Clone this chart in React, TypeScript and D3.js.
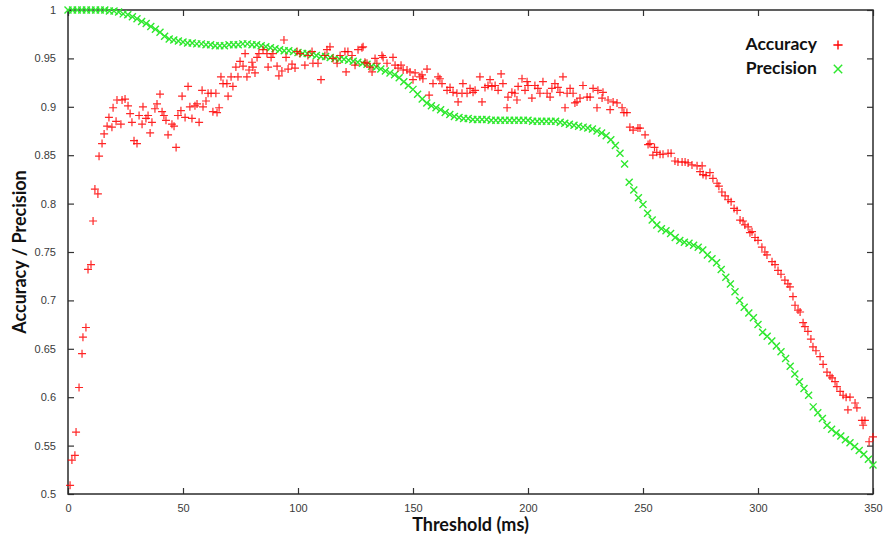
import React, { useEffect, useRef } from "react";
import * as d3 from "d3";

// precision: one reading every 2 ms from 0 to 350
const precisionMs = d3.range(0, 351, 2);
const precision = [
  1.0, 1.0, 1.0, 1.0, 1.0, 1.0, 1.0, 1.0, 1.0, 0.999,
  0.999, 0.998, 0.996, 0.995, 0.993, 0.991, 0.988, 0.986, 0.983, 0.98,
  0.977, 0.973, 0.97, 0.969, 0.968, 0.967, 0.966, 0.966, 0.965, 0.965,
  0.964, 0.964, 0.963, 0.963, 0.963, 0.964, 0.964, 0.964, 0.965, 0.965,
  0.964, 0.964, 0.963, 0.962, 0.961, 0.96, 0.959, 0.958, 0.958, 0.957,
  0.956, 0.955, 0.955, 0.954, 0.953, 0.952, 0.952, 0.951, 0.95, 0.949,
  0.949, 0.948, 0.947, 0.946, 0.945, 0.944, 0.942, 0.941, 0.939, 0.937,
  0.935, 0.933, 0.93, 0.926, 0.922, 0.918, 0.913, 0.908, 0.904, 0.901,
  0.899, 0.897, 0.894, 0.892, 0.89, 0.889, 0.888, 0.888, 0.887, 0.887,
  0.887, 0.887, 0.886, 0.886, 0.886, 0.886, 0.886, 0.886, 0.886, 0.886,
  0.886, 0.885, 0.885, 0.885, 0.885, 0.885, 0.885, 0.884, 0.883, 0.882,
  0.881, 0.88, 0.879, 0.878, 0.877, 0.875, 0.873, 0.87, 0.866, 0.86,
  0.852, 0.841, 0.822, 0.814, 0.806, 0.799, 0.79, 0.783, 0.778, 0.774,
  0.772, 0.769, 0.765, 0.762, 0.76, 0.759, 0.757, 0.755, 0.752, 0.747,
  0.743, 0.739, 0.732, 0.724, 0.717, 0.709, 0.7, 0.693, 0.687, 0.682,
  0.675, 0.667, 0.663, 0.658, 0.653, 0.647, 0.64, 0.632, 0.624, 0.616,
  0.609, 0.602, 0.59, 0.584, 0.578, 0.571, 0.567, 0.563, 0.56, 0.556,
  0.553, 0.549, 0.545, 0.541, 0.536, 0.53,
];

// accuracy: [threshold ms, value]
const accuracy: [number, number][] = [
  [0.9, 0.509], [1.7, 0.535], [3.0, 0.54], [3.5, 0.564], [4.8, 0.61], [6.1, 0.645], [6.5, 0.662], [7.8, 0.672],
  [8.7, 0.732], [10.0, 0.737], [10.9, 0.782], [11.7, 0.815], [13.0, 0.81], [13.5, 0.849], [14.8, 0.862], [15.7, 0.872],
  [17.0, 0.88], [17.8, 0.889], [19.1, 0.879], [19.6, 0.899], [20.9, 0.885], [21.3, 0.907], [23.0, 0.882], [23.5, 0.907],
  [24.8, 0.908], [26.1, 0.901], [27.0, 0.893], [27.8, 0.884], [28.7, 0.865], [30.0, 0.862], [30.9, 0.891], [32.2, 0.882],
  [32.6, 0.9], [33.9, 0.888], [34.8, 0.891], [35.7, 0.873], [36.5, 0.884], [37.8, 0.898], [38.7, 0.903], [40.0, 0.913],
  [40.9, 0.895], [41.7, 0.891], [42.6, 0.886], [43.5, 0.871], [45.2, 0.882], [46.1, 0.88], [47.0, 0.858], [47.8, 0.891],
  [49.1, 0.896], [49.6, 0.911], [50.9, 0.889], [52.2, 0.921], [53.0, 0.9], [53.9, 0.888], [55.2, 0.901], [56.1, 0.903],
  [57.0, 0.884], [58.3, 0.917], [58.7, 0.9], [60.0, 0.906], [60.9, 0.914], [62.2, 0.914], [63.0, 0.895], [64.3, 0.914],
  [64.8, 0.894], [65.7, 0.899], [66.5, 0.931], [67.4, 0.924], [69.1, 0.924], [69.6, 0.911], [70.9, 0.931], [71.7, 0.921],
  [73.0, 0.941], [73.9, 0.931], [74.8, 0.947], [76.1, 0.942], [77.0, 0.955], [77.8, 0.931], [78.7, 0.938], [80.0, 0.946],
  [80.4, 0.941], [81.3, 0.935], [82.2, 0.951], [83.0, 0.955], [84.8, 0.959], [86.5, 0.955], [87.0, 0.941], [88.3, 0.951],
  [89.1, 0.955], [90.9, 0.942], [91.7, 0.932], [93.0, 0.937], [93.9, 0.969], [94.8, 0.951], [95.7, 0.939], [97.4, 0.944],
  [98.7, 0.94], [99.6, 0.957], [100.9, 0.955], [103.0, 0.943], [104.3, 0.953], [106.1, 0.957], [106.5, 0.945], [108.7, 0.945],
  [110.0, 0.928], [111.7, 0.953], [112.6, 0.959], [113.9, 0.962], [115.2, 0.95], [117.0, 0.945], [118.3, 0.953], [120.4, 0.957],
  [120.9, 0.936], [121.7, 0.957], [123.5, 0.953], [124.8, 0.943], [126.1, 0.959], [127.8, 0.961], [128.3, 0.962], [129.1, 0.946],
  [130.0, 0.945], [131.3, 0.941], [132.2, 0.936], [133.5, 0.95], [134.3, 0.945], [136.5, 0.953], [137.0, 0.951], [138.7, 0.945],
  [141.3, 0.951], [142.2, 0.943], [143.5, 0.94], [144.8, 0.943], [145.7, 0.938], [147.4, 0.938], [148.7, 0.936], [150.0, 0.928],
  [150.9, 0.935], [153.0, 0.931], [153.9, 0.933], [154.3, 0.929], [156.1, 0.939], [157.0, 0.912], [158.7, 0.924], [160.9, 0.931],
  [161.7, 0.929], [162.6, 0.924], [164.8, 0.917], [166.1, 0.92], [167.4, 0.915], [169.1, 0.914], [169.6, 0.905], [171.3, 0.914],
  [171.7, 0.924], [173.5, 0.914], [174.8, 0.919], [176.1, 0.915], [177.0, 0.917], [179.1, 0.931], [180.0, 0.905], [181.3, 0.92],
  [182.6, 0.922], [183.5, 0.928], [184.3, 0.921], [185.7, 0.922], [187.0, 0.917], [188.3, 0.934], [189.1, 0.924], [190.9, 0.899],
  [191.3, 0.91], [193.0, 0.915], [194.3, 0.914], [195.2, 0.907], [195.7, 0.921], [197.4, 0.929], [198.7, 0.917], [199.6, 0.926],
  [200.0, 0.922], [201.7, 0.909], [203.0, 0.922], [204.3, 0.919], [205.2, 0.914], [206.5, 0.926], [208.3, 0.914], [209.6, 0.91],
  [210.4, 0.919], [211.7, 0.924], [213.0, 0.92], [213.9, 0.915], [215.2, 0.931], [216.1, 0.899], [217.0, 0.914], [218.3, 0.919],
  [219.6, 0.914], [220.4, 0.904], [221.3, 0.905], [222.6, 0.909], [223.9, 0.922], [225.7, 0.91], [227.0, 0.91], [228.3, 0.919],
  [230.0, 0.899], [230.4, 0.917], [232.2, 0.909], [232.6, 0.915], [234.8, 0.907], [235.7, 0.897], [237.0, 0.905], [238.7, 0.904],
  [240.9, 0.899], [241.7, 0.894], [243.0, 0.894], [244.3, 0.879], [245.7, 0.876], [247.8, 0.878], [248.7, 0.878], [250.9, 0.871],
  [252.2, 0.861], [253.0, 0.862], [254.3, 0.85], [255.0, 0.858], [256.0, 0.853], [257.4, 0.851], [258.7, 0.851], [260.9, 0.852],
  [262.2, 0.852], [263.9, 0.844], [265.2, 0.843], [267.0, 0.843], [268.3, 0.843], [269.6, 0.842], [271.3, 0.84], [273.5, 0.839],
  [274.8, 0.833], [275.7, 0.839], [276.1, 0.83], [277.4, 0.829], [279.1, 0.832], [280.4, 0.826], [282.2, 0.821], [283.0, 0.818],
  [284.3, 0.812], [285.7, 0.808], [287.0, 0.804], [288.3, 0.802], [289.6, 0.795], [290.9, 0.793], [292.2, 0.783], [293.5, 0.782],
  [294.3, 0.778], [295.7, 0.776], [296.5, 0.77], [297.4, 0.771], [298.7, 0.765], [300.0, 0.762], [301.7, 0.755], [303.0, 0.75],
  [303.9, 0.747], [306.1, 0.74], [307.4, 0.737], [308.7, 0.731], [310.0, 0.727], [311.7, 0.721], [313.0, 0.717], [313.9, 0.714],
  [315.2, 0.704], [316.1, 0.695], [317.4, 0.69], [318.3, 0.688], [319.6, 0.677], [320.4, 0.673], [321.7, 0.668], [323.0, 0.66],
  [323.9, 0.652], [325.2, 0.648], [327.0, 0.642], [328.3, 0.634], [330.0, 0.626], [331.3, 0.622], [332.2, 0.62], [333.5, 0.616],
  [334.3, 0.611], [335.7, 0.606], [337.0, 0.602], [338.3, 0.6], [339.1, 0.587], [340.0, 0.6], [342.2, 0.594], [343.0, 0.589],
  [345.2, 0.576], [345.7, 0.571], [346.5, 0.576], [348.3, 0.554], [350.0, 0.559],
];

const xTicks = [0, 50, 100, 150, 200, 250, 300, 350];
const yTicks = [0.5, 0.55, 0.6, 0.65, 0.7, 0.75, 0.8, 0.85, 0.9, 0.95, 1];
const yTickLabels = ["0.5", "0.55", "0.6", "0.65", "0.7", "0.75", "0.8", "0.85", "0.9", "0.95", "1"];

const RED = "#ff0000";
const GREEN = "#2ee82e";
const plusPath = "M-4,0H4M0,-4V4";
const crossPath = "M-3.5,-3.5L3.5,3.5M-3.5,3.5L3.5,-3.5";

const App = () => {
  const svgRef = useRef<SVGSVGElement>(null);

  useEffect(() => {
    const svg = d3.select(svgRef.current);
    const width = 884;
    const height = 540;
    const margin = { top: 10, right: 11, bottom: 46, left: 68 };

    svg.selectAll("*").remove();

    const x = d3.scaleLinear().domain([0, 350]).range([margin.left, width - margin.right]);
    const y = d3.scaleLinear().domain([0.5, 1]).range([height - margin.bottom, margin.top]);

    const tickFont = (g: any) =>
      g.selectAll("text").attr("font-family", "Liberation Sans, Arial, sans-serif").attr("font-size", 11).attr("fill", "#3a3a3a");
    const tickLine = (g: any) => {
      g.select(".domain").remove();
      g.selectAll("line").attr("stroke", "#333").attr("stroke-width", 1.2);
    };

    // bottom / left axes with labels, inward ticks
    svg.append("g")
      .attr("transform", `translate(0, ${y(0.5)})`)
      .call(d3.axisBottom(x).tickValues(xTicks).tickSizeInner(-6).tickSizeOuter(0).tickPadding(10))
      .call(tickLine)
      .call(tickFont);

    svg.append("g")
      .attr("transform", `translate(${x(0)}, 0)`)
      .call(d3.axisLeft(y).tickValues(yTicks).tickFormat((_, i) => yTickLabels[i]).tickSizeInner(-6).tickSizeOuter(0).tickPadding(12))
      .call(tickLine)
      .call(tickFont);

    // mirror ticks top / right
    svg.append("g")
      .attr("transform", `translate(0, ${y(1)})`)
      .call(d3.axisTop(x).tickValues(xTicks).tickFormat(() => "").tickSizeInner(-6).tickSizeOuter(0))
      .call(tickLine);

    svg.append("g")
      .attr("transform", `translate(${x(350)}, 0)`)
      .call(d3.axisRight(y).tickValues(yTicks).tickFormat(() => "").tickSizeInner(-6).tickSizeOuter(0))
      .call(tickLine);

    // frame
    svg.append("rect")
      .attr("x", x(0))
      .attr("y", y(1))
      .attr("width", x(350) - x(0))
      .attr("height", y(0.5) - y(1))
      .attr("fill", "none")
      .attr("stroke", "#2b2b2b")
      .attr("stroke-width", 1.5);

    // precision markers
    svg.append("g")
      .selectAll("path")
      .data(precision)
      .join("path")
      .attr("transform", (d, i) => `translate(${x(precisionMs[i])}, ${y(d)})`)
      .attr("d", crossPath)
      .attr("stroke", GREEN)
      .attr("stroke-width", 1.4)
      .attr("fill", "none");

    // accuracy markers
    svg.append("g")
      .selectAll("path")
      .data(accuracy)
      .join("path")
      .attr("transform", (d) => `translate(${x(d[0])}, ${y(d[1])})`)
      .attr("d", plusPath)
      .attr("stroke", RED)
      .attr("stroke-width", 1.2)
      .attr("stroke-opacity", 0.85)
      .attr("fill", "none");

    // axis titles
    svg.append("text")
      .attr("x", (x(0) + x(350)) / 2)
      .attr("y", 531)
      .attr("text-anchor", "middle")
      .attr("font-family", "Lato, sans-serif")
      .attr("font-weight", "bold")
      .attr("font-size", 18)
      .attr("fill", "#111")
      .text("Threshold (ms)");

    svg.append("text")
      .attr("transform", `translate(26, ${(y(0.5) + y(1)) / 2}) rotate(-90)`)
      .attr("text-anchor", "middle")
      .attr("font-family", "Lato, sans-serif")
      .attr("font-weight", "bold")
      .attr("font-size", 18)
      .attr("fill", "#111")
      .text("Accuracy / Precision");

    // legend
    const legend = [
      { label: "Accuracy", path: plusPath, color: RED, scale: 1.15 },
      { label: "Precision", path: crossPath, color: GREEN, scale: 1.2 },
    ];
    const lg = svg.append("g").selectAll("g").data(legend).join("g")
      .attr("transform", (_, i) => `translate(0, ${i * 24})`);
    lg.append("text")
      .attr("x", 817)
      .attr("y", 50)
      .attr("text-anchor", "end")
      .attr("font-family", "Lato, sans-serif")
      .attr("font-weight", "bold")
      .attr("font-size", 17.5)
      .attr("fill", "#111")
      .text((d) => d.label);
    lg.append("path")
      .attr("transform", (d) => `translate(838, 45) scale(${d.scale})`)
      .attr("d", (d) => d.path)
      .attr("stroke", (d) => d.color)
      .attr("stroke-width", 1.2)
      .attr("fill", "none");
  }, []);

  return (
    <svg
      ref={svgRef}
      width={884}
      height={540}
      style={{ position: "absolute", left: 0, top: 0, background: "#fff" }}
    />
  );
};

export default App;
